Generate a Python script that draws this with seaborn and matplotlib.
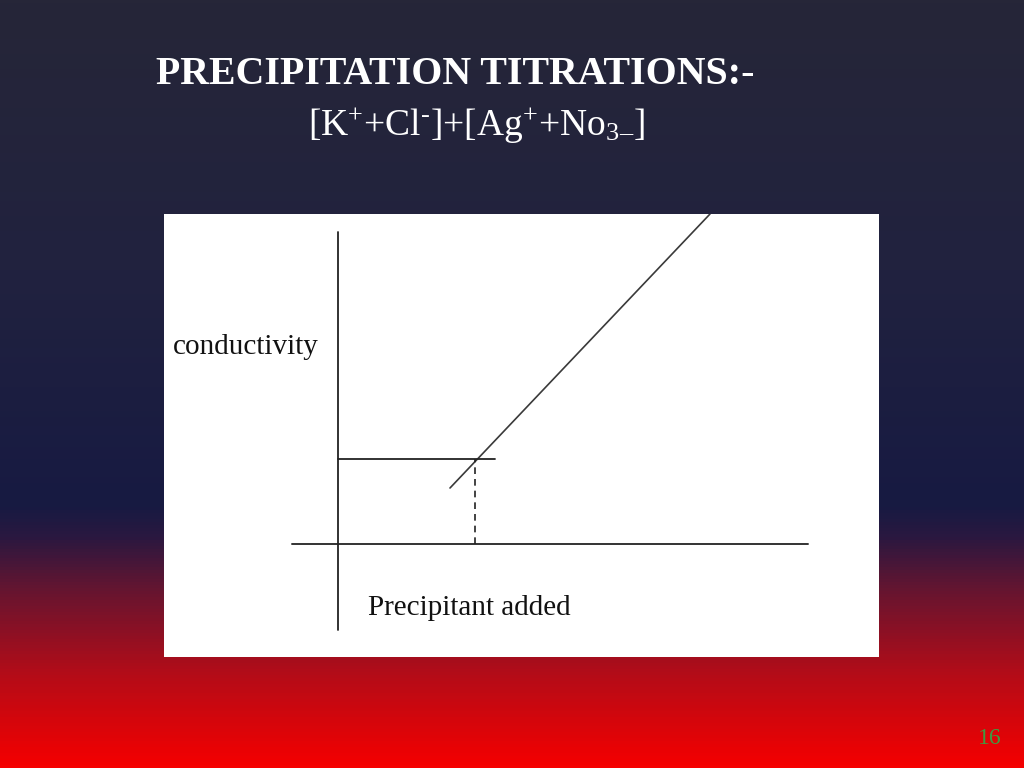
import numpy as np
import pandas as pd
import matplotlib
matplotlib.use("Agg")
import matplotlib.pyplot as plt
from matplotlib.colors import LinearSegmentedColormap
import seaborn as sns

# slide text
title = "PRECIPITATION TITRATIONS:-"
subtitle = "[K$^{+}$+Cl$^{\u2010}$]+[Ag$^{+}$+No$_{3}$$_{\u2013}$]"
x_label = "Precipitant added"
y_label = "conductivity"
page_no = "16"

# schematic curve (arbitrary units, origin where the axes cross)
precipitant = [1.12, 3.72]
conductivity = [0.56, 3.30]
equiv_x = [1.37, 1.37]
equiv_y = [0.0, 0.85]
plateau_x = [0.0, 1.57]
plateau_y = [0.85, 0.85]

# background gradient stops (fraction from top, colour)
bg_stops = [(0.0, "#262638"), (0.35, "#21223f"), (0.66, "#171a42"),
            (0.70, "#2a1840"), (0.77, "#661530"), (0.88, "#b40c18"),
            (1.0, "#f50000")]

sns.set_theme(style="white")
plt.rcParams["font.family"] = ["Liberation Serif", "DejaVu Serif"]
plt.rcParams["mathtext.fontset"] = "custom"
plt.rcParams["mathtext.rm"] = "Liberation Serif"
plt.rcParams["mathtext.it"] = "Liberation Serif"

fig = plt.figure(figsize=(10.24, 7.68), dpi=100)

# gradient background
bg = fig.add_axes([0, 0, 1, 1])
cmap = LinearSegmentedColormap.from_list("slide", bg_stops)
bg.imshow(np.linspace(0, 1, 768).reshape(-1, 1), aspect="auto", cmap=cmap,
          extent=[0, 1, 0, 1], origin="upper")
bg.set_axis_off()

fig.text(156 / 1024, 1 - 75 / 768, title, color="white", fontsize=28.7,
         fontweight="bold", va="center", ha="left")
fig.text(308 / 1024, 1 - 125 / 768, subtitle, color="white", fontsize=27,
         va="center", ha="left")
fig.text(990 / 1024, 1 - 739 / 768, page_no, color="#3f9a40", fontsize=17,
         va="center", ha="center")

# white chart panel
ax = fig.add_axes([164 / 1024, 111 / 768, 715 / 1024, 443 / 768])
ax.set_facecolor("white")
ax.set_xlim(-1.74, 5.41)
ax.set_ylim(-1.13, 3.30)
for s in ax.spines.values():
    s.set_visible(False)
ax.set_xticks([])
ax.set_yticks([])

# hand-drawn style axes
ax.axhline(0, xmin=(-0.46 + 1.74) / 7.15, xmax=(4.70 + 1.74) / 7.15,
           color="#333333", lw=1.4)
ax.axvline(0, ymin=(-0.86 + 1.13) / 4.43, ymax=(3.12 + 1.13) / 4.43,
           color="#222222", lw=1.3)

df = pd.DataFrame({"precipitant": precipitant, "conductivity": conductivity})
sns.lineplot(data=df, x="precipitant", y="conductivity", ax=ax,
             color="#3a3a3a", lw=1.2)
sns.lineplot(x=plateau_x, y=plateau_y, ax=ax, color="#222222", lw=1.3)
ax.plot(equiv_x, equiv_y, color="#222222", lw=1.2, ls=(0, (4, 3)))

ax.set_xlabel("")
ax.set_ylabel("")
ax.text(-1.65, 1.97, y_label, fontsize=21, color="#111111",
        ha="left", va="center")
ax.text(0.30, -0.64, x_label, fontsize=21, color="#111111",
        ha="left", va="center")

fig.savefig("out.png", dpi=100)
